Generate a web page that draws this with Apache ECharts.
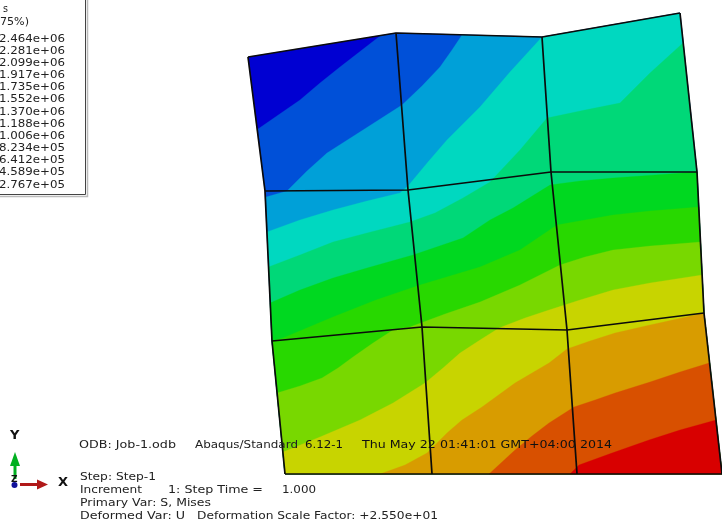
<!DOCTYPE html>
<html><head><meta charset="utf-8">
<style>html,body{margin:0;padding:0;background:#fff;overflow:hidden}#c{width:722px;height:524px;filter:blur(0.5px)}</style>
<script src="https://cdn.jsdelivr.net/npm/echarts@6/dist/echarts.min.js"></script>
</head><body><div id="c"></div>
<script>
// Deformed mesh nodes, rows top to bottom
const meshRow0 = [[248,57],[396,33],[542,37],[680,13]];
const meshRow1 = [[265,191],[408,190],[551,172],[697,172]];
const meshRow2 = [[272,341],[422,327],[567,330],[704,313]];
const meshRow3 = [[285,474],[432,474],[577,474],[722,474]];
// Outer boundary, clockwise
const outline = [[248,57],[396,33],[542,37],[680,13],[697,172],[704,313],[722,474],[285,474],[272,341],[265,191]];
// Contour band boundaries, lowest stress to highest
const iso1  = [[258,129],[300,100],[320,83],[340,67],[380,36]];
const iso2  = [[266,197],[287,191],[307,171],[327,153],[363,130],[402,105],[422,86],[440,67],[452,50],[462,35]];
const iso3  = [[267,232],[300,220],[333,210],[367,201],[400,193],[408,186],[428,162],[447,140],[480,107],[510,72],[542,37]];
const iso4  = [[268.5,267],[300,255],[333,242],[367,233],[410,222],[435,213],[463,198],[490,182],[520,150],[547,118],[585,110],[620,103],[650,73],[683,43]];
const iso5  = [[270,303],[300,290],[333,278],[367,268],[413,255],[463,238],[490,220],[513,208],[550,185],[580,181],[613,178],[697,172]];
const iso6  = [[272,341],[283,338],[333,317],[376,300],[420,285],[480,267],[520,250],[557,225],[585,220],[613,215],[650,211],[699,207]];
const iso7  = [[277,393],[300,386],[322,378],[338,368],[353,357],[373,343],[393,330],[410,327],[445,314],[480,302],[520,285],[560,265],[585,257],[613,250],[650,246],[700.5,242]];
const iso8  = [[283,452],[320,437],[360,420],[393,403],[425,383],[443,368],[460,353],[480,340],[499,328],[525,318],[549,310],[580,300],[613,290],[650,283],[702,275]];
const iso9  = [[380,474],[405,465],[427,453],[447,433],[462,420],[482,407],[515,383],[549,363],[567,349],[590,341],[615,333],[650,325],[704,313]];
const iso10 = [[489,474],[515,450],[532,436],[549,423],[574,407],[595,400],[615,393],[650,382],[680,372],[709,363]];
const iso11 = [[570,474],[579,465],[612,453],[649,440],[680,430],[716,420]];
const bandColors = ['#0000d2','#0050d8','#00a0d8','#00d8c0','#00d878','#00d820','#28d800','#78d800','#c8d400','#d89c00','#d85000','#d80000'];
// Legend and caption text
const legendHead = ['s','75%)'];
const legendValues = ['2.464e+06','2.281e+06','2.099e+06','1.917e+06','1.735e+06','1.552e+06','1.370e+06','1.188e+06','1.006e+06','8.234e+05','6.412e+05','4.589e+05','2.767e+05'];
const captionTop = ['ODB: Job-1.odb','Abaqus/Standard','6.12-1','Thu May 22 01:41:01 GMT+04:00 2014'];
const captionLines = ['Step: Step-1','Increment','1: Step Time =','1.000','Primary Var: S, Mises','Deformed Var: U','Deformation Scale Factor: +2.550e+01'];

// Which outline vertices close each band region
const closure = [[0,9],[1,9],[2,8],[3,8],[4,8],[5,8],[5,7],[5,7],[5,7],[5,6],[6,6],[6,6]];
const isos = [[],iso1,iso2,iso3,iso4,iso5,iso6,iso7,iso8,iso9,iso10,iso11];
const bands = isos.map((iso,i)=>{
  const tail=[]; for(let k=closure[i][0];k<=closure[i][1];k++) tail.push(outline[k]);
  return {pts: iso.concat(tail), color: bandColors[i]};
});

const meas = document.createElement('canvas').getContext('2d');
function fit(text,x,yy,w,opt){
  opt=opt||{};
  const font=(opt.weight||'normal')+' '+(opt.size||10)+'px "DejaVu Sans"';
  meas.font=font;
  const sx=w?w/meas.measureText(text).width:1;
  return {type:'text',z:50,x:x,y:yy,scaleX:sx,silent:true,
    style:{text:text,x:0,y:0,font:font,fill:opt.fill||'#222',textVerticalAlign:'middle',verticalAlign:'middle',align:'left'}};
}
const g=[];
// legend box
g.push({type:'polyline',z:20,shape:{points:[[87.5,0],[87.5,196.5],[0,196.5]]},style:{stroke:'#bbb',fill:null,lineWidth:1.5}});
g.push({type:'polyline',z:21,shape:{points:[[85.5,0],[85.5,194.5],[0,194.5]]},style:{stroke:'#444',fill:null,lineWidth:1}});
g.push({type:'rect',z:19,shape:{x:0,y:0,width:85,height:194},style:{fill:'#fff'}});
g.push(fit(legendHead[0],3,9,5));
g.push(fit(legendHead[1],0,22,29));
legendValues.forEach((t,i)=>g.push(fit(t,-1,39+i*12.17,66)));
// captions
g.push(fit(captionTop[0],79,445,97));
g.push(fit(captionTop[1],195,445,103));
g.push(fit(captionTop[2],305,445,38,{fill:'#111'}));
g.push(fit(captionTop[3],362,445,250,{fill:'#111'}));
g.push(fit(captionLines[0],80,477,76));
g.push(fit(captionLines[1],80,490,62));
g.push(fit(captionLines[2],168,490,95));
g.push(fit(captionLines[3],282,490,34));
g.push(fit(captionLines[4],80,503,131));
g.push(fit(captionLines[5],80,516,105));
g.push(fit(captionLines[6],197,516,241));
// triad
g.push({type:'rect',z:30,shape:{x:13.5,y:460,width:3,height:19},style:{fill:'#00b020'}});
g.push({type:'polygon',z:30,shape:{points:[[15,452],[20,466],[10,466]]},style:{fill:'#00b020'}});
g.push({type:'rect',z:30,shape:{x:20,y:483,width:20,height:3},style:{fill:'#b01818'}});
g.push({type:'polygon',z:30,shape:{points:[[48,484.5],[37,479.5],[37,489.5]]},style:{fill:'#b01818'}});
g.push({type:'circle',z:30,shape:{cx:14.5,cy:485,r:3},style:{fill:'#10109a'}});
g.push(fit('Y',10,436,null,{size:13,weight:'bold',fill:'#111'}));
g.push(fit('X',58,483,null,{size:13,weight:'bold',fill:'#111'}));
g.push(fit('Z',11,480,null,{size:9,weight:'bold',fill:'#111'}));

const meshSeries=[meshRow0,meshRow1,meshRow2,meshRow3];
const lines=meshSeries.slice();
for(let c=0;c<4;c++) lines.push(meshSeries.map(r=>r[c]));

const chart=echarts.init(document.getElementById('c'),null,{renderer:'canvas'});
chart.setOption({
  animation:false,backgroundColor:'#fff',
  grid:{left:0,right:0,top:0,bottom:0},
  xAxis:{type:'value',min:0,max:722,show:false},
  yAxis:{type:'value',min:0,max:524,inverse:true,show:false},
  series:[{
    type:'custom',coordinateSystem:'cartesian2d',clip:false,silent:true,z:2,
    data:bands.map((b,i)=>[i]),
    renderItem:function(params,api){
      const b=bands[params.dataIndex];
      return {type:'polygon',shape:{points:b.pts.map(p=>api.coord(p))},style:{fill:b.color,stroke:b.color,lineWidth:0.3}};
    }
  }].concat(lines.map(l=>({
    type:'line',data:l,showSymbol:false,symbol:'none',z:5,silent:true,clip:false,
    lineStyle:{color:'#0b0b0b',width:1.7}
  }))),
  graphic:{elements:g}
});
</script></body></html>
